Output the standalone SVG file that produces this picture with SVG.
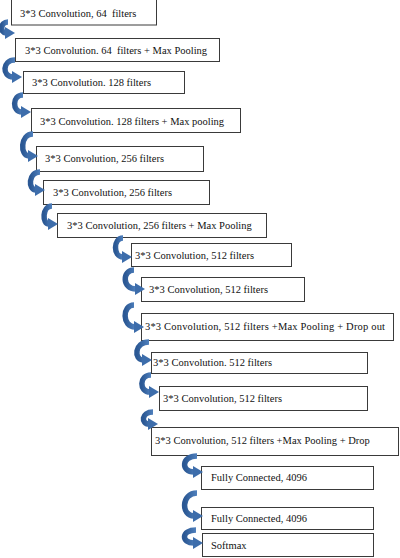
<svg xmlns="http://www.w3.org/2000/svg" width="400" height="558" viewBox="0 0 400 558">
<style>
.box rect{fill:#fff;stroke:#3a3a3a;stroke-width:1}
.box text{font-size:10.5px;fill:#111;white-space:pre}
.arr{fill:none;stroke:url(#ag);stroke-width:5.5;marker-end:url(#ah)}
</style>
<defs>
<linearGradient id="ag" x1="0" y1="0" x2="1" y2="0">
<stop offset="0" stop-color="#2b5894"/>
<stop offset="1" stop-color="#4f80bd"/>
</linearGradient>
<marker id="ah" markerUnits="userSpaceOnUse" markerWidth="10" markerHeight="12" viewBox="0 0 10 12" refX="1" refY="6" orient="auto">
<path d="M0,0 L10,6 L0,12 z" fill="#3d6dab"/>
</marker>
</defs>
<rect width="400" height="558" fill="#fff"/>
<g font-family="Liberation Serif, DejaVu Serif, serif">
<g id="n1" class="box"><rect x="11.5" y="-2" width="145" height="27"/><text x="20" y="17">3*3 Convolution, 64  filters</text></g>
<g id="n2" class="box"><rect x="15.5" y="38.5" width="204" height="23"/><text x="25" y="54">3*3 Convolution. 64  filters + Max Pooling</text></g>
<g id="n3" class="box"><rect x="23.5" y="71.5" width="161" height="22"/><text x="32" y="86">3*3 Convolution. 128 filters</text></g>
<g id="n4" class="box"><rect x="31.5" y="108.5" width="209" height="24"/><text x="40" y="125">3*3 Convolution. 128 filters + Max pooling</text></g>
<g id="n5" class="box"><rect x="36.5" y="146.5" width="167" height="25"/><text x="45" y="162">3*3 Convolution, 256 filters</text></g>
<g id="n6" class="box"><rect x="43.5" y="180.5" width="166" height="24"/><text x="53" y="196">3*3 Convolution, 256 filters</text></g>
<g id="n7" class="box"><rect x="57.5" y="213.5" width="209" height="24"/><text x="67" y="229">3*3 Convolution, 256 filters + Max Pooling</text></g>
<g id="n8" class="box"><rect x="131.5" y="243.5" width="160" height="23"/><text x="135" y="259">3*3 Convolution, 512 filters</text></g>
<g id="n9" class="box"><rect x="141.5" y="277.5" width="163" height="24"/><text x="149" y="293">3*3 Convolution, 512 filters</text></g>
<g id="n10" class="box"><rect x="141.5" y="313.5" width="252" height="27"/><text x="145" y="330" textLength="240" lengthAdjust="spacing">3*3 Convolution, 512 filters +Max Pooling + Drop out</text></g>
<g id="n11" class="box"><rect x="151.5" y="352.5" width="216" height="21"/><text x="153" y="366">3*3 Convolution. 512 filters</text></g>
<g id="n12" class="box"><rect x="159.5" y="386.5" width="208" height="24"/><text x="163" y="402">3*3 Convolution, 512 filters</text></g>
<g id="n13" class="box"><rect x="151.5" y="427.5" width="247" height="28"/><text x="155" y="444">3*3 Convolution, 512 filters +Max Pooling + Drop</text></g>
<g id="n14" class="box"><rect x="201.5" y="466.5" width="172" height="23"/><text x="211" y="481">Fully Connected, 4096</text></g>
<g id="n15" class="box"><rect x="201.5" y="507.5" width="172" height="22"/><text x="211" y="522">Fully Connected, 4096</text></g>
<g id="n16" class="box"><rect x="202.5" y="533.5" width="171" height="23"/><text x="211" y="549">Softmax</text></g>
</g>
<g id="connectors">
<path class="arr" d="M8,22 C0,22 0,33 6,33"/>
<path class="arr" d="M15,60 C2,60 2,77 13,77"/>
<path class="arr" d="M23,95 C12,95 12,112 22,112"/>
<path class="arr" d="M33,134 C20,134 20,156 29,156"/>
<path class="arr" d="M40,172 C28,172 28,190 36,190"/>
<path class="arr" d="M52,206 C42,206 42,224 49,224"/>
<path class="arr" d="M123,238 C113,238 113,257 123,257"/>
<path class="arr" d="M134,270 C122,270 122,289 136,289"/>
<path class="arr" d="M134,305 C122,305 122,327 135,327"/>
<path class="arr" d="M149,342 C134,342 134,360 143,360"/>
<path class="arr" d="M151,375 C139,375 139,392 150,392"/>
<path class="arr" d="M153,412 C141,412 141,424 149,424"/>
<path class="arr" d="M197,456 C181,456 181,472 194,472"/>
<path class="arr" d="M197,493 C181,493 181,516 194,516"/>
<path class="arr" d="M196,530 C181,530 181,543 194,543"/>
</g>
</svg>
